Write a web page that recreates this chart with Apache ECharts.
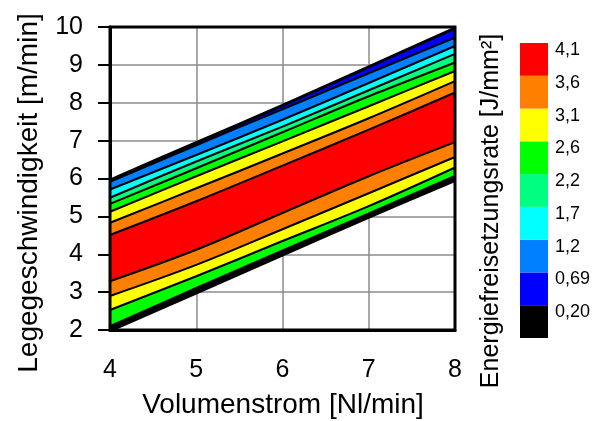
<!DOCTYPE html>
<html>
<head>
<meta charset="utf-8">
<script src="https://cdn.jsdelivr.net/npm/echarts@6/dist/echarts.min.js"></script>
<style>
  html, body { margin: 0; padding: 0; background: #fff; }
  #chart { width: 594px; height: 421px; }
</style>
</head>
<body>
<div id="chart"></div>
<script>
// x positions (Volumenstrom) where the contour lines were read
const xVals = [4, 5, 6, 7, 8]
// contour boundaries, bottom to top (Legegeschwindigkeit at each x)
const edgeLow = [2.0, 3.0, 4.0, 5.0, 5.97]
const lo020 = [2.1, 3.11, 4.1, 5.08, 6.07]
const lo26 = [2.53, 3.42, 4.35, 5.27, 6.29]
const lo31 = [2.9, 3.72, 4.66, 5.61, 6.57]
const lo36 = [3.29, 4.12, 5.09, 6.06, 6.96]
const hi36 = [4.51, 5.4, 6.34, 7.29, 8.27]
const hi31 = [4.83, 5.74, 6.66, 7.59, 8.57]
const hi26 = [5.12, 6.06, 6.98, 7.91, 8.84]
const hi22 = [5.33, 6.27, 7.22, 8.17, 9.06]
const hi17 = [5.49, 6.45, 7.37, 8.33, 9.29]
const hi12 = [5.71, 6.62, 7.55, 8.52, 9.5]
const hi069 = [5.91, 6.88, 7.83, 8.78, 9.72]
const edgeHigh = [5.96, 6.95, 7.93, 8.95, 9.97]

// colour of each band between two boundaries, bottom to top
const bandColors = ['#000000', '#00ff00', '#ffff00', '#ff8000', '#ff0000', '#ff8000',
  '#ffff00', '#00ff00', '#00ff80', '#00ffff', '#0080ff', '#0000ff']

// colour bar, bottom to top
const levelLabels = ['0,20', '0,69', '1,2', '1,7', '2,2', '2,6', '3,1', '3,6', '4,1']
const levelColors = ['#000000', '#0000ff', '#0080ff', '#00ffff', '#00ff80', '#00ff00',
  '#ffff00', '#ff8000', '#ff0000']

const yTicks = [2, 3, 4, 5, 6, 7, 8, 9, 10]

const bounds = [edgeLow, lo020, lo26, lo31, lo36, hi36, hi31, hi26, hi22, hi17, hi12, hi069, edgeHigh]
const font = "'Liberation Sans', Arial, sans-serif"
const SMOOTH = 0.35

const series = []
// filled bands as a stack of differences
bounds.forEach((b, k) => {
  const vals = k === 0 ? b : b.map((v, i) => v - bounds[k - 1][i])
  series.push({
    type: 'line',
    xAxisIndex: 0,
    yAxisIndex: 0,
    stack: 'bands',
    smooth: SMOOTH,
    symbol: 'none',
    lineStyle: { width: 0 },
    areaStyle: k === 0 ? { opacity: 0 } : { color: bandColors[k - 1], opacity: 1 },
    data: vals,
    z: 2
  })
})
// black contour lines on top
bounds.forEach((b, k) => {
  let w = 2.1
  if (k === 0) w = 4.5
  if (k === bounds.length - 1) w = 3
  series.push({
    type: 'line',
    xAxisIndex: 0,
    yAxisIndex: 0,
    smooth: SMOOTH,
    symbol: 'none',
    lineStyle: { color: '#000', width: w },
    data: b,
    z: 3
  })
})
// colour bar blocks
levelColors.forEach((c) => {
  series.push({
    type: 'bar',
    xAxisIndex: 1,
    yAxisIndex: 1,
    stack: 'cb',
    barWidth: '100%',
    itemStyle: { color: c },
    data: [1]
  })
})

const chart = echarts.init(document.getElementById('chart'))
chart.setOption({
  animation: false,
  textStyle: { fontFamily: font },
  grid: [
    { left: 110, top: 27, width: 345, height: 303, show: true, z: 10,
      backgroundColor: 'transparent', borderColor: '#000', borderWidth: 3 },
    { left: 520, top: 43, width: 28, height: 295 }
  ],
  xAxis: [
    {
      type: 'category', gridIndex: 0, data: xVals, boundaryGap: false,
      axisLine: { show: true, lineStyle: { color: '#000', width: 3 } },
      axisTick: { show: false },
      splitLine: { show: true, lineStyle: { color: '#8c8c8c', width: 1.5 } },
      axisLabel: { fontSize: 25, color: '#000', margin: 28, fontFamily: font }
    },
    { type: 'category', gridIndex: 1, data: ['cb'], show: false }
  ],
  yAxis: [
    {
      type: 'value', gridIndex: 0, min: yTicks[0], max: yTicks[yTicks.length - 1], interval: 1,
      axisLine: { show: true, lineStyle: { color: '#000', width: 3 } },
      axisTick: { show: true, length: 12, lineStyle: { color: '#000', width: 2 } },
      splitLine: { show: true, lineStyle: { color: '#8c8c8c', width: 1.5 } },
      axisLabel: { fontSize: 25, color: '#000', margin: 27, fontFamily: font }
    },
    {
      type: 'value', gridIndex: 1, min: 0, max: levelLabels.length, interval: 1, position: 'right',
      axisLine: { show: false }, axisTick: { show: false }, splitLine: { show: false },
      axisLabel: {
        margin: 7, fontSize: 18, color: '#000', fontFamily: font,
        verticalAlign: 'top', lineHeight: 14,
        formatter: (v) => (v >= 1 ? levelLabels[v - 1] : '')
      }
    }
  ],
  graphic: [
    { type: 'text', x: 283, y: 405,
      style: { text: 'Volumenstrom [Nl/min]', fontSize: 28, fontFamily: font, fill: '#000', align: 'center', verticalAlign: 'middle' } },
    { type: 'text', x: 29, y: 193, rotation: Math.PI / 2,
      style: { text: 'Legegeschwindigkeit [m/min]', fontSize: 28, fontFamily: font, fill: '#000', align: 'center', verticalAlign: 'middle' } },
    { type: 'text', x: 491, y: 211, rotation: Math.PI / 2,
      style: { text: 'Energiefreisetzungsrate [J/mm²]', fontSize: 25, fontFamily: font, fill: '#000', align: 'center', verticalAlign: 'middle' } }
  ],
  series: series
})
</script>
</body>
</html>
